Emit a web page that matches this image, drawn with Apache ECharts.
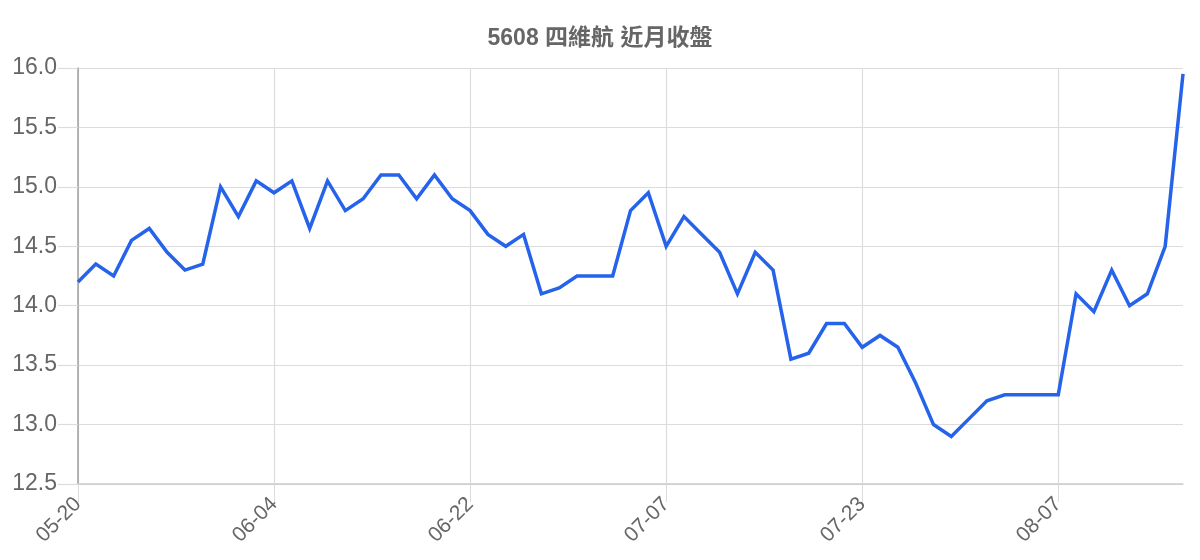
<!DOCTYPE html>
<html>
<head>
<meta charset="utf-8">
<script src="https://cdn.jsdelivr.net/npm/echarts@6/dist/echarts.min.js"></script>
<style>
  html, body { margin: 0; padding: 0; background: #fff; }
  #chart { width: 1200px; height: 560px; }
</style>
</head>
<body>
<div id="chart"></div>
<script>
const TITLE = "5608 四維航 近月收盤";

const dates = [
  "05-20", "05-21", "05-22", "05-23", "05-24", "05-27", "05-28", "05-29", "05-30", "05-31", "06-03",
  "06-04", "06-05", "06-06", "06-07", "06-11", "06-12", "06-13", "06-14", "06-17", "06-18", "06-20",
  "06-22", "06-24", "06-25", "06-26", "06-27", "06-28", "07-01", "07-02", "07-03", "07-04", "07-05",
  "07-07", "07-08", "07-09", "07-10", "07-11", "07-12", "07-15", "07-16", "07-17", "07-18", "07-19",
  "07-23", "07-24", "07-25", "07-26", "07-29", "07-30", "07-31", "08-01", "08-02", "08-05", "08-06",
  "08-07", "08-08", "08-09", "08-12", "08-13", "08-14", "08-15", "08-16"
];

const closes = [
  14.2, 14.35, 14.25, 14.55, 14.65, 14.45, 14.3, 14.35, 15.0, 14.75, 15.05,
  14.95, 15.05, 14.65, 15.05, 14.8, 14.9, 15.1, 15.1, 14.9, 15.1, 14.9,
  14.8, 14.6, 14.5, 14.6, 14.1, 14.15, 14.25, 14.25, 14.25, 14.8, 14.95,
  14.5, 14.75, 14.6, 14.45, 14.1, 14.45, 14.3, 13.55, 13.6, 13.85, 13.85,
  13.65, 13.75, 13.65, 13.35, 13.0, 12.9, 13.05, 13.2, 13.25, 13.25, 13.25,
  13.25, 14.1, 13.95, 14.3, 14.0, 14.1, 14.5, 15.95
];

const yMin = 12.5;
const yMax = 16.0;
const yStep = 0.5;

const FONT = '"Liberation Sans", Arial, "Noto Sans CJK TC", sans-serif';

const chart = echarts.init(document.getElementById("chart"));

chart.setOption({
  animation: false,
  textStyle: { fontFamily: FONT },
  title: {
    text: TITLE,
    left: "center",
    top: 22,
    textStyle: { fontSize: 23, fontWeight: "bold", color: "#666", fontFamily: FONT }
  },
  grid: { left: 78, right: 17, top: 68, bottom: 76, containLabel: false },
  xAxis: {
    type: "category",
    data: dates,
    boundaryGap: false,
    axisLine: { lineStyle: { color: "#cccccc", width: 1.5 } },
    axisTick: { show: true, interval: 10, length: 18, lineStyle: { color: "#dcdcdc" } },
    axisLabel: {
      interval: 10,
      rotate: 45,
      margin: 17,
      fontSize: 21,
      color: "#666",
      fontFamily: FONT
    },
    splitLine: { show: true, interval: 10, lineStyle: { color: "#dcdcdc", width: 1.2 } }
  },
  yAxis: {
    type: "value",
    min: yMin,
    max: yMax,
    interval: yStep,
    axisLine: { show: true, lineStyle: { color: "#a0a0a0", width: 1.5 } },
    axisTick: { show: true, length: 20, lineStyle: { color: "#dcdcdc", width: 1.2 } },
    axisLabel: {
      margin: 21,
      fontSize: 23,
      color: "#666",
      fontFamily: FONT,
      formatter: v => v.toFixed(1)
    },
    splitLine: { show: true, lineStyle: { color: "#dcdcdc", width: 1.2 } }
  },
  series: [{
    type: "line",
    data: closes,
    showSymbol: false,
    lineStyle: { color: "#2563eb", width: 3.5, join: "miter" },
    itemStyle: { color: "#2563eb" }
  }]
});
</script>
</body>
</html>
